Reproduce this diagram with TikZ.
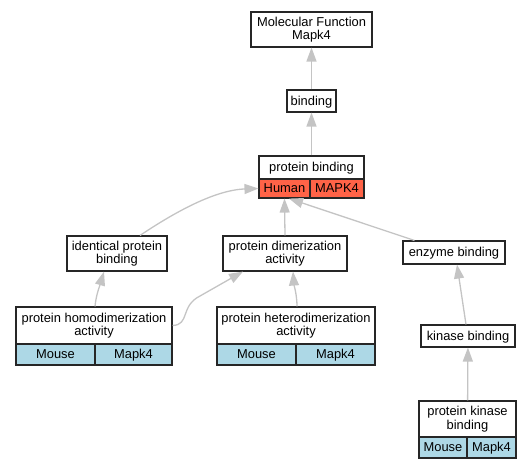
\documentclass[tikz,border=0pt]{standalone}
\usepackage{fontspec}
\setmainfont{Liberation Sans}
\usetikzlibrary{calc,positioning,arrows.meta}
\definecolor{edgegray}{HTML}{C4C4C4}
\definecolor{humanred}{HTML}{FF6347}
\definecolor{mouseblue}{HTML}{ADD8E6}
\tikzset{
>={Triangle[length=14pt,width=10pt]},
  term/.style={
    rectangle,
    draw=black!85, line width=1.1pt,
    fill=white,
    inner sep=0pt,
    align=center,
    font=\fontsize{12.9}{13.5}\selectfont},
  oneline/.style={text height=11.4pt, text depth=2.7pt},
  cell/.style={term, oneline, minimum height=21pt},
  human/.style={cell, fill=humanred},
  mouse/.style={cell, fill=mouseblue},
  isa/.style={draw=edgegray, line width=1.3pt, ->},
}
\begin{document}
\begin{tikzpicture}
  [x=1pt, y=-1pt]
  \useasboundingbox (0,0) rectangle (531,469);
     % terms
     \node[term, minimum width=121pt, minimum height=35pt] (molfunc) at (311.5,29.5) {Molecular Function\\Mapk4};
     \node[term, oneline, minimum width=49pt, minimum height=22pt] (binding) at (311.5,101) {binding};
     \node[term, oneline, minimum width=105pt, minimum height=23pt] (protbind) at (311.5,167.5) {protein binding};
     \node[human, minimum width=51pt, minimum height=19pt] (protbindh) at (284.5,188.5) {Human};
     \node[human, minimum width=54pt, minimum height=19pt] (protbindg) at (337,188.5) {MAPK4};
     \node[term, minimum width=100pt, minimum height=35pt] (identical) at (117,253.5) {identical protein\\binding};
     \node[term, minimum width=124pt, minimum height=35pt] (dimer) at (285,253.5) {protein dimerization\\activity};
     \node[term, oneline, minimum width=102pt, minimum height=23pt] (enzyme) at (454,252.5) {enzyme binding};
     \node[term, minimum width=156pt, minimum height=37pt] (homo) at (94,325.5) {protein homodimerization\\activity};
     \node[mouse, minimum width=79pt] (homom) at (55.5,354.5) {Mouse};
     \node[mouse, minimum width=77pt] (homog) at (133.5,354.5) {Mapk4};
     \node[term, minimum width=158pt, minimum height=37pt] (hetero) at (296,325.5) {protein heterodimerization\\activity};
     \node[mouse, minimum width=79pt] (heterom) at (256.5,354.5) {Mouse};
     \node[mouse, minimum width=79pt] (heterog) at (335.5,354.5) {Mapk4};
     \node[term, oneline, minimum width=94pt, minimum height=22pt] (kinase) at (468,336) {kinase binding};
     \node[term, minimum width=97pt, minimum height=36pt] (protkin) at (467.5,419) {protein kinase\\binding};
     \node[mouse, minimum width=48pt] (protkinm) at (443,447.5) {Mouse};
     \node[mouse, minimum width=49pt] (protking) at (491.5,447.5) {Mapk4};
     % is_a edges
     \draw[isa] (binding) -- (molfunc);
     \draw[isa] (protbind) -- (binding);
     \draw[isa] ($(identical.north)+(23,0)$) .. controls (175,212) and (215,190) .. (protbindh.west);
     \draw[isa] (dimer.north) -- (protbindh.south);
     \draw[isa] ($(enzyme.north west)+(12,0)$) -- ($(protbindh.south)+(4.5,0)$);
     \draw[isa] (homo.east) .. controls (190,325) and (180,306) .. (200,296) -- ($(dimer.south)+(-42,0)$);
     \draw[isa] ($(homo.north)+(1,0)$) .. controls (96,295) and (100,285) .. ($(identical.south)+(-13,0)$);
     \draw[isa] ($(hetero.north)+(1,0)$) .. controls (297,295) and (294,285) .. ($(dimer.south)+(8,0)$);
     \draw[isa] ($(kinase.north)+(-2,0)$) -- ($(enzyme.south)+(3,0)$);
     \draw[isa] (protkin) -- (kinase);
\end{tikzpicture}
\end{document}
